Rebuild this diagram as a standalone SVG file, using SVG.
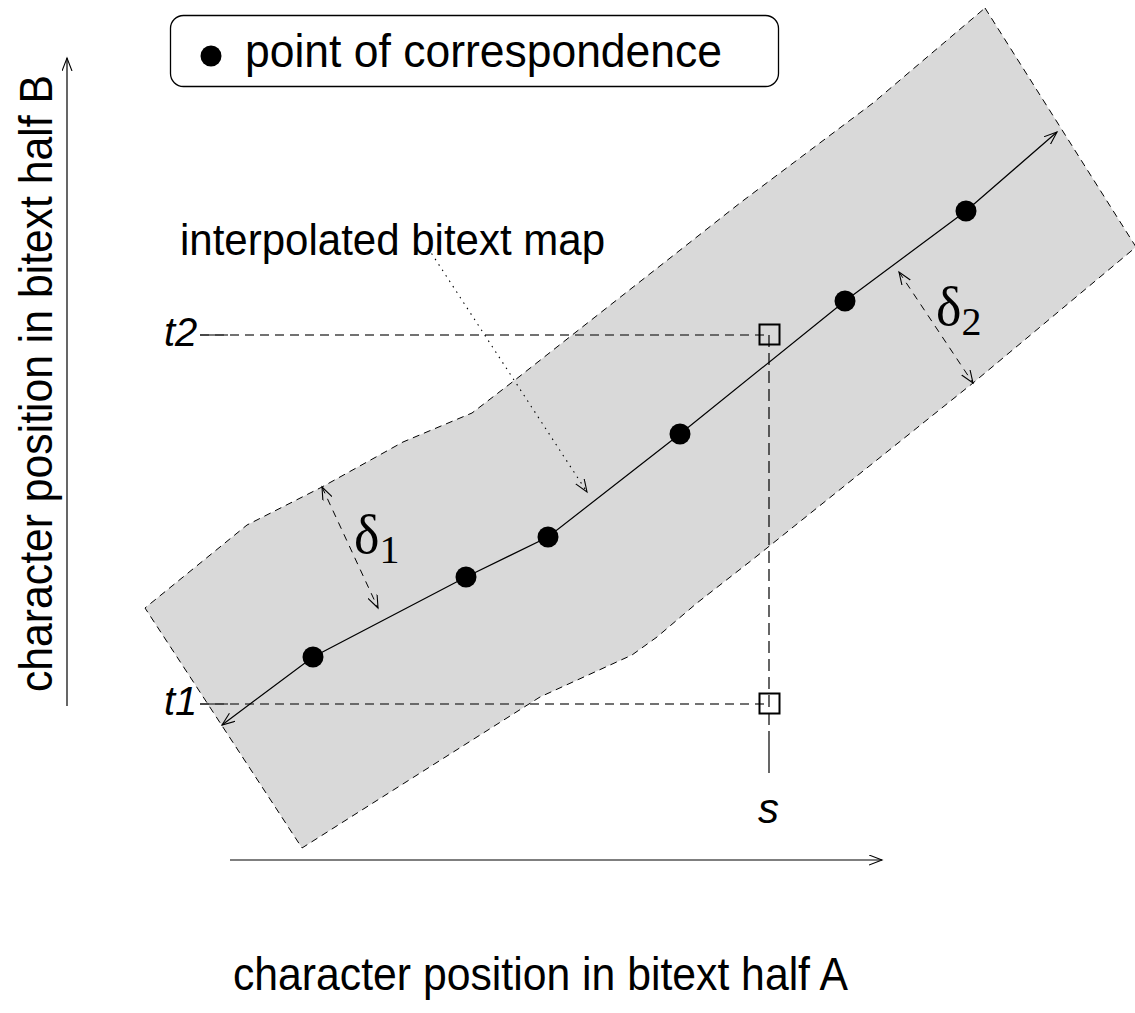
<svg xmlns="http://www.w3.org/2000/svg" width="1135" height="1013" viewBox="0 0 1135 1013">
<style>
.lbl{font-family:"Liberation Sans",Arial,sans-serif;fill:#000}
.it{font-family:"Liberation Sans",Arial,sans-serif;font-style:italic;fill:#000}
.gr{font-family:"Liberation Serif","Times New Roman",serif;fill:#000}
.dot{fill:#000}
.ln{fill:none;stroke:#000;stroke-width:1.2}
</style>
<defs>
<marker id="arr" markerUnits="userSpaceOnUse" markerWidth="16" markerHeight="12" refX="13" refY="5" orient="auto-start-reverse">
<path d="M0,0 L13,5 L0,10" fill="none" stroke="#000" stroke-width="1.1"/>
</marker>
</defs>
<g id="region">
<polygon points="985,8 1136,247 973,383 752,560 697,603 657,637 632,655 540,697 302,848 145,608 247,525 322,487 403,442 472,413 515,380 740,203 873,103" fill="#d9d9d9" stroke="#000" stroke-width="1" stroke-dasharray="7,5"/>
</g>
<g id="legend">
<rect x="170.5" y="15.5" width="608" height="71" rx="13" fill="#fff" stroke="#000" stroke-width="1.3"/>
<circle cx="211" cy="56" r="10.5" class="dot"/>
<text x="245" y="67" class="lbl" font-size="47" textLength="477" lengthAdjust="spacingAndGlyphs">point of correspondence</text>
</g>
<g id="connectors">
<line x1="67" y1="706" x2="67" y2="58" class="ln" marker-end="url(#arr)"/>
<line x1="230" y1="860" x2="882" y2="860" class="ln" marker-end="url(#arr)"/>
<line x1="200" y1="335" x2="769" y2="335" stroke="#444" stroke-width="1.3" stroke-dasharray="9,6"/>
<line x1="200" y1="335" x2="228" y2="335" stroke="#333" stroke-width="1.3"/>
<line x1="200" y1="704" x2="769" y2="704" stroke="#444" stroke-width="1.3" stroke-dasharray="9,6"/>
<line x1="200" y1="704" x2="228" y2="704" stroke="#333" stroke-width="1.3"/>
<line x1="769" y1="335" x2="769" y2="735" stroke="#000" stroke-width="1.2" stroke-dasharray="12,6"/>
<line x1="769" y1="735" x2="769" y2="773" stroke="#000" stroke-width="1.2"/>
<polyline points="222,725 313,657 466,577 548,537 680,434 845,301 966,211 1057,132" class="ln" marker-start="url(#arr)" marker-end="url(#arr)"/>
<line x1="322" y1="487" x2="378" y2="608" stroke="#000" stroke-width="1" stroke-dasharray="7,6" marker-start="url(#arr)" marker-end="url(#arr)"/>
<line x1="899" y1="272" x2="973" y2="383" stroke="#000" stroke-width="1" stroke-dasharray="7,6" marker-start="url(#arr)" marker-end="url(#arr)"/>
<line x1="428" y1="248" x2="587" y2="492" stroke="#000" stroke-width="1.1" stroke-dasharray="1.5,5" marker-end="url(#arr)"/>
</g>
<g id="squares">
<rect x="759.5" y="324.5" width="20" height="20" fill="none" stroke="#000" stroke-width="2"/>
<rect x="759.5" y="693.5" width="20" height="20" fill="none" stroke="#000" stroke-width="2"/>
</g>
<g id="points">
<circle cx="313" cy="657" r="10.5" class="dot"/>
<circle cx="466" cy="577" r="10.5" class="dot"/>
<circle cx="548" cy="537" r="10.5" class="dot"/>
<circle cx="680" cy="434" r="10.5" class="dot"/>
<circle cx="845" cy="301" r="10.5" class="dot"/>
<circle cx="966" cy="211" r="10.5" class="dot"/>
</g>
<g id="labels">
<text x="180" y="255" class="lbl" font-size="45" textLength="425" lengthAdjust="spacingAndGlyphs">interpolated bitext map</text>
<text x="164" y="346" class="it" font-size="40">t2</text>
<text x="164" y="715" class="it" font-size="40">t1</text>
<text x="758" y="823" class="it" font-size="42">s</text>
<text x="354" y="553" class="gr" font-size="54">δ<tspan font-size="40" dy="10">1</tspan></text>
<text x="936" y="325" class="gr" font-size="54">δ<tspan font-size="40" dy="10">2</tspan></text>
<text x="233" y="990" class="lbl" font-size="46" textLength="615" lengthAdjust="spacingAndGlyphs">character position in bitext half A</text>
<text transform="translate(52,692) rotate(-90)" class="lbl" font-size="46" textLength="617" lengthAdjust="spacingAndGlyphs">character position in bitext half B</text>
</g>
</svg>
